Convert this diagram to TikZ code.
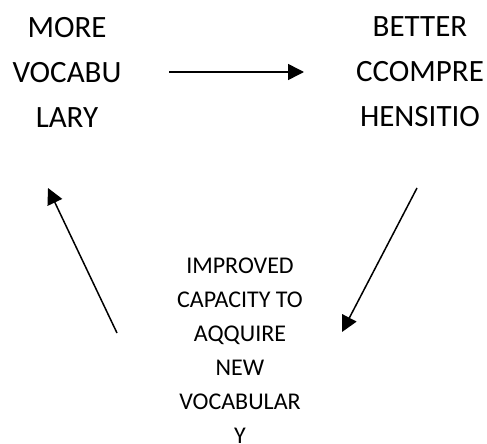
\documentclass[tikz,border=0pt]{standalone}
\usepackage{fontspec}
\setmainfont{Carlito}
\usetikzlibrary{arrows.meta}
\tikzset{
  bigword/.style={align=center, inner sep=0pt, font=\fontsize{31}{45}\selectfont},
  smallword/.style={align=center, inner sep=0pt, font=\fontsize{24}{34}\selectfont},
  flow/.style={line width=1.5pt, -{Triangle[length=16pt,width=16pt]}}
}
\begin{document}
\begin{tikzpicture}[x=1pt,y=-1pt]
\useasboundingbox (0,0) rectangle (487,444);

\draw (67,72) node[bigword] (vocab) {MORE\\VOCABU\\LARY};
\draw (420,72) node[bigword] (compr) {BETTER\\CCOMPRE\\HENSITIO};
\draw (240,351) node[smallword] (capac) {IMPROVED\\CAPACITY TO\\AQQUIRE\\NEW\\VOCABULAR\\Y};

\coordinate (a1) at (169,72);
\coordinate (a2) at (304,72);
\coordinate (b1) at (417,188);
\coordinate (b2) at (342,332);
\coordinate (c1) at (117,333);
\coordinate (c2) at (48,188);

\draw[flow] (a1) -- (a2);
\draw[flow] (b1) -- (b2);
\draw[flow] (c1) -- (c2);
\end{tikzpicture}
\end{document}
